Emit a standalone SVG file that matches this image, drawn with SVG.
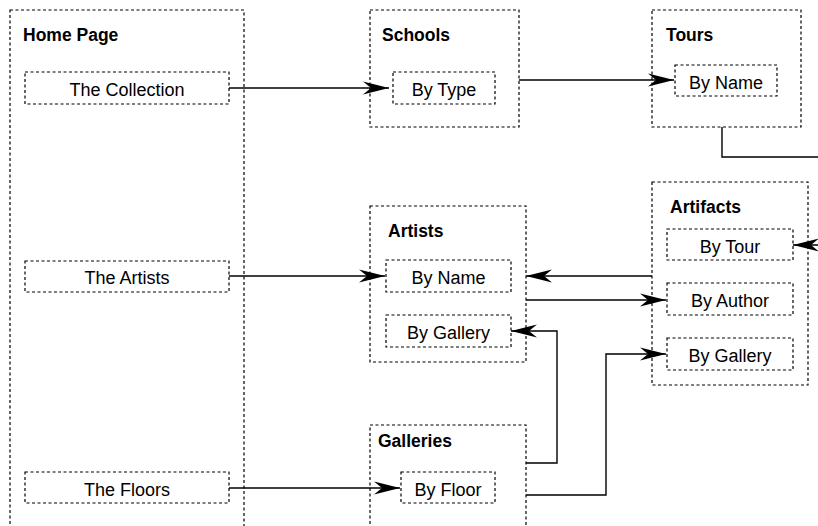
<svg xmlns="http://www.w3.org/2000/svg" width="818" height="526" viewBox="0 0 818 526">
<style>
  .box { fill: none; stroke: #000; stroke-width: 1.2; stroke-dasharray: 3 2.5; }
  .title { font-family: "Liberation Sans", Arial, sans-serif; font-size: 17.5px; font-weight: bold; fill: #000; }
  .lbl { font-family: "Liberation Sans", Arial, sans-serif; font-size: 18px; fill: #000; text-anchor: middle; }
  .conn { fill: none; stroke: #000; stroke-width: 1.4; }
</style>
<defs>
  <marker id="arr" markerUnits="userSpaceOnUse" viewBox="-28 -8 30 16" markerWidth="30" markerHeight="16" refX="0" refY="0" orient="auto" overflow="visible">
    <path d="M0,0 L-26,-6.5 L-18,0 L-26,6.5 Z" fill="#000"/>
  </marker>
</defs>
<rect width="818" height="526" fill="#fff"/>

<g id="home">
  <rect class="box" x="10" y="10" width="234" height="540"/>
  <text class="title" x="23" y="41">Home Page</text>
  <g id="collection"><rect class="box" x="25" y="72" width="204" height="32"/><text class="lbl" x="127" y="95.5">The Collection</text></g>
  <g id="theartists"><rect class="box" x="25" y="261" width="204" height="31"/><text class="lbl" x="127" y="283.5">The Artists</text></g>
  <g id="thefloors"><rect class="box" x="25" y="472" width="204" height="31"/><text class="lbl" x="127" y="495.5">The Floors</text></g>
</g>

<g id="schools">
  <rect class="box" x="370" y="10" width="149" height="117"/>
  <text class="title" x="382" y="41">Schools</text>
  <g id="bytype"><rect class="box" x="393" y="72" width="102" height="32"/><text class="lbl" x="444" y="95.5">By Type</text></g>
</g>

<g id="tours">
  <rect class="box" x="652" y="10" width="149" height="117"/>
  <text class="title" x="666" y="41">Tours</text>
  <g id="tours-byname"><rect class="box" x="675" y="65" width="102" height="31"/><text class="lbl" x="726" y="88.5">By Name</text></g>
</g>

<g id="artists">
  <rect class="box" x="370" y="206" width="156" height="156"/>
  <text class="title" x="388" y="237">Artists</text>
  <g id="artists-byname"><rect class="box" x="386" y="260" width="125" height="32"/><text class="lbl" x="448.5" y="283.5">By Name</text></g>
  <g id="artists-bygallery"><rect class="box" x="386" y="315" width="125" height="32"/><text class="lbl" x="448.5" y="338.5">By Gallery</text></g>
</g>

<g id="artifacts">
  <rect class="box" x="652" y="182" width="156" height="203"/>
  <text class="title" x="670" y="213">Artifacts</text>
  <g id="bytour"><rect class="box" x="667" y="229" width="126" height="31"/><text class="lbl" x="730" y="252.5">By Tour</text></g>
  <g id="byauthor"><rect class="box" x="667" y="283" width="126" height="32"/><text class="lbl" x="730" y="306.5">By Author</text></g>
  <g id="artifacts-bygallery"><rect class="box" x="667" y="338" width="126" height="32"/><text class="lbl" x="730" y="361.5">By Gallery</text></g>
</g>

<g id="galleries">
  <rect class="box" x="370" y="425" width="156" height="130"/>
  <text class="title" x="378" y="447">Galleries</text>
  <g id="byfloor"><rect class="box" x="401" y="472" width="94" height="31"/><text class="lbl" x="448" y="495.5">By Floor</text></g>
</g>

<g id="connectors">
  <path class="conn" d="M229,88 H389" marker-end="url(#arr)"/>
  <path class="conn" d="M519,80 H674" marker-end="url(#arr)"/>
  <path class="conn" d="M722,127 V157 H830 V245 H793" marker-end="url(#arr)"/>
  <path class="conn" d="M229,276 H385" marker-end="url(#arr)"/>
  <path class="conn" d="M652,276 H526" marker-end="url(#arr)"/>
  <path class="conn" d="M526,300 H666" marker-end="url(#arr)"/>
  <path class="conn" d="M526,463 H557 V331 H511" marker-end="url(#arr)"/>
  <path class="conn" d="M526,495 H606 V354 H666" marker-end="url(#arr)"/>
  <path class="conn" d="M229,488 H400" marker-end="url(#arr)"/>
</g>
</svg>
